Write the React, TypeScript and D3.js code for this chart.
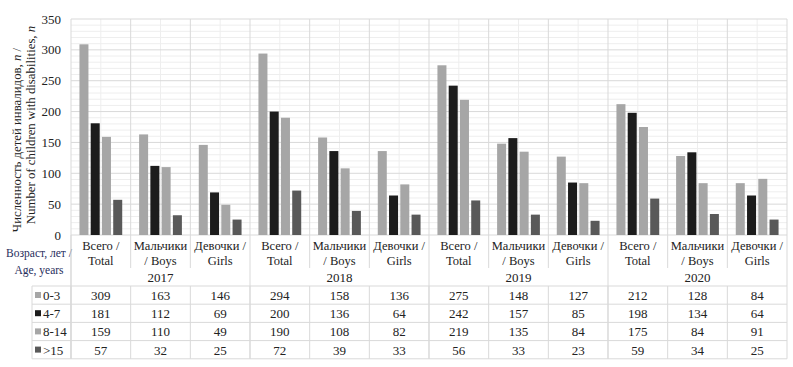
import React from "react";
import * as d3 from "d3";

// values
const years = ["2017", "2018", "2019", "2020"];
const groupLabels = [
  ["Всего /", "Total"],
  ["Мальчики", "/ Boys"],
  ["Девочки /", "Girls"],
];
const ageGroups = ["0-3", "4-7", "8-14", ">15"];
const age0to3 = [309, 163, 146, 294, 158, 136, 275, 148, 127, 212, 128, 84];
const age4to7 = [181, 112, 69, 200, 136, 64, 242, 157, 85, 198, 134, 64];
const age8to14 = [159, 110, 49, 190, 108, 82, 219, 135, 84, 175, 84, 91];
const age15plus = [57, 32, 25, 72, 39, 33, 56, 33, 23, 59, 34, 25];
const yTicks = [0, 50, 100, 150, 200, 250, 300, 350];

const seriesValues = [age0to3, age4to7, age8to14, age15plus];
const colors = ["#a6a6a6", "#1c1c1c", "#a6a6a6", "#595959"];

const W = 793;
const H = 367;
const font = "Liberation Serif";

const App = () => {
  const left = 71;
  const right = 787;
  const top = 19;
  const base = 235;
  const catBottom = 268;
  const tableTop = 286;
  const rowH = 18.2;
  const tableBottom = tableTop + rowH * 4;

  const cats = d3.range(years.length * groupLabels.length).map(String);
  const x = d3.scaleBand().domain(cats).range([left, right]);
  const inner = d3
    .scaleBand()
    .domain(ageGroups)
    .range([0, x.bandwidth()])
    .paddingInner(0.2)
    .paddingOuter(0.75);
  const y = d3.scaleLinear().domain([0, 350]).range([base, top]);

  const minorY = d3.range(0, 351, 10).filter((v) => v % 50 !== 0);
  const bw = x.bandwidth();

  return (
    <div style={{ position: "absolute", left: 0, top: 0 }}>
      <svg width={W} height={H} style={{ display: "block" }}>
        <rect width={W} height={H} fill="#fff" />

        {/* minor gridlines */}
        {minorY.map((v) => (
          <line key={"my" + v} x1={left} x2={right} y1={y(v)} y2={y(v)} stroke="#eeeeee" />
        ))}
        {cats.map((c) => (
          <line
            key={"mx" + c}
            x1={x(c)! + bw / 2}
            x2={x(c)! + bw / 2}
            y1={top}
            y2={base}
            stroke="#eeeeee"
          />
        ))}
        {/* major gridlines */}
        {yTicks.map((v) => (
          <line key={"gy" + v} x1={left} x2={right} y1={y(v)} y2={y(v)} stroke="#d9d9d9" />
        ))}
        {cats.map((c, i) => {
          const xx = x(c)!;
          const groupEdge = i % 3 === 0;
          return (
            <line
              key={"gx" + c}
              x1={xx}
              x2={xx}
              y1={top}
              y2={groupEdge ? tableBottom : catBottom}
              stroke="#d9d9d9"
            />
          );
        })}
        <line x1={right} x2={right} y1={top} y2={tableBottom} stroke="#d9d9d9" />

        {/* bars */}
        {seriesValues.map((vals, s) =>
          vals.map((v, i) => (
            <rect
              key={s + "-" + i}
              x={x(cats[i])! + inner(ageGroups[s])!}
              y={y(v)}
              width={inner.bandwidth()}
              height={base - y(v)}
              fill={colors[s]}
            />
          ))
        )}

        <g fontFamily={font} fill="#222">
          {/* y axis ticks */}
          {yTicks.map((v) => (
            <text key={"t" + v} x={61} y={y(v) + 4.5} textAnchor="end" fontSize={13}>
              {v}
            </text>
          ))}

          {/* y axis title */}
          <text transform={`translate(21,140) rotate(-90)`} textAnchor="middle" fontSize={12.8}>
            Численность детей инвалидов, <tspan fontStyle="italic">n</tspan> /
          </text>
          <text transform={`translate(35,125) rotate(-90)`} textAnchor="middle" fontSize={12.8}>
            Number of children with disabilities, <tspan fontStyle="italic">n</tspan>
          </text>

          {/* category labels */}
          {cats.map((c, i) => {
            const cx = x(c)! + bw / 2;
            const lbl = groupLabels[i % 3];
            return (
              <g key={"cl" + c} fontSize={12.5} textAnchor="middle">
                <text x={cx} y={250}>{lbl[0]}</text>
                <text x={cx} y={265}>{lbl[1]}</text>
              </g>
            );
          })}
          {years.map((yr, g) => (
            <text
              key={yr}
              x={x(cats[g * 3])! + bw * 1.5}
              y={282}
              textAnchor="middle"
              fontSize={13}
            >
              {yr}
            </text>
          ))}

          {/* header of the left column */}
          <text x={39} y={257} textAnchor="middle" fontSize={11.5} fill="#1f2d5c">
            Возраст, лет /
          </text>
          <text x={39} y={274} textAnchor="middle" fontSize={11.5} fill="#1f2d5c">
            Age, years
          </text>
        </g>

        {/* data table */}
        {d3.range(5).map((r) => (
          <line
            key={"tr" + r}
            x1={32}
            x2={right}
            y1={tableTop + r * rowH}
            y2={tableTop + r * rowH}
            stroke="#d9d9d9"
          />
        ))}
        <line x1={32} x2={32} y1={tableTop} y2={tableBottom} stroke="#d9d9d9" />
        <line x1={left} x2={left} y1={base} y2={tableBottom} stroke="#d9d9d9" />
        {cats.map((c) => (
          <line
            key={"tv" + c}
            x1={x(c)!}
            x2={x(c)!}
            y1={tableTop}
            y2={tableBottom}
            stroke="#d9d9d9"
          />
        ))}
        {ageGroups.map((a, r) => {
          const ty = tableTop + r * rowH;
          return (
            <g key={"row" + a} fontFamily={font} fill="#222" fontSize={13}>
              <rect x={35} y={ty + 6} width={6} height={6} fill={colors[r]} />
              <text x={43} y={ty + 14}>
                {a}
              </text>
              {seriesValues[r].map((v, i) => (
                <text key={i} x={x(cats[i])! + bw / 2} y={ty + 14} textAnchor="middle">
                  {v}
                </text>
              ))}
            </g>
          );
        })}
      </svg>
    </div>
  );
};

export default App;
